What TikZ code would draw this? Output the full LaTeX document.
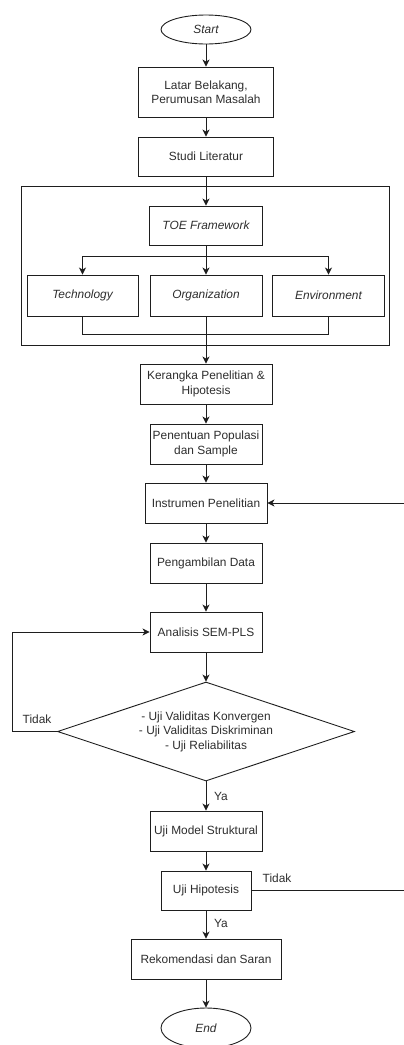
\documentclass[tikz,border=0pt]{standalone}
\usepackage{fontspec}
\setmainfont{Liberation Sans}
\usetikzlibrary{shapes.geometric,arrows.meta}
\definecolor{ln}{RGB}{30,30,30}
\definecolor{tx}{RGB}{45,45,45}
\begin{document}
\begin{tikzpicture}[x=1pt,y=-1pt,
  every node/.style={text=tx,font=\fontsize{11.9}{14.5}\selectfont},
  box/.style={draw=ln,line width=0.9pt,rectangle,inner sep=2pt,align=center},
  term/.style={draw=ln,line width=0.9pt,ellipse,inner sep=0pt,font=\fontsize{11.9}{14.5}\selectfont\itshape},
  lab/.style={inner sep=0pt},
  arr/.style={draw=ln,line width=0.9pt,-{Stealth[length=7pt,width=7pt,inset=2pt]}},
  ln/.style={draw=ln,line width=0.9pt}]
\useasboundingbox (0,0) rectangle (404,1045);
\node[term,minimum width=90,minimum height=29] (start) at (206,29.5) {Start};
\node[box,minimum width=135,minimum height=50] (latar) at (206,92) {Latar Belakang,\\Perumusan Masalah};
\node[box,minimum width=135,minimum height=39] (studi) at (206,156.5) {Studi Literatur};
\node[draw=ln,line width=0.9pt,minimum width=368,minimum height=159,inner sep=0pt] (frame) at (205,265.5) {};
\node[box,minimum width=113,minimum height=39,font=\fontsize{11.9}{14.5}\selectfont\itshape] (toe) at (206,225.5) {TOE Framework};
\node[box,minimum width=111,minimum height=41,font=\fontsize{11.9}{14.5}\selectfont\itshape] (tech) at (82.5,295.5) {Technology};
\node[box,minimum width=112,minimum height=41,font=\fontsize{11.9}{14.5}\selectfont\itshape] (org) at (206,295.5) {Organization};
\node[box,minimum width=112,minimum height=41,font=\fontsize{11.9}{14.5}\selectfont\itshape] (env) at (328.5,295.5) {Environment};
\coordinate (br) at (206,256);
\coordinate (jn) at (206,334);
\node[box,minimum width=132,minimum height=40] (ker) at (206,384) {Kerangka Penelitian \&\\Hipotesis};
\node[box,minimum width=112,minimum height=40] (pen) at (206,444) {Penentuan Populasi\\dan Sample};
\node[box,minimum width=122,minimum height=40] (ins) at (206,503) {Instrumen Penelitian};
\node[box,minimum width=112,minimum height=40] (amb) at (206,563) {Pengambilan Data};
\node[box,minimum width=112,minimum height=40] (ana) at (206,632) {Analisis SEM-PLS};
\node[draw=ln,line width=0.9pt,diamond,aspect=3,inner sep=0pt,minimum width=297,minimum height=99,align=center] (uji) at (206,731.5) {- Uji Validitas Konvergen\\- Uji Validitas Diskriminan\\- Uji Reliabilitas};
\node[box,minimum width=112,minimum height=40] (mod) at (206,831) {Uji Model Struktural};
\node[box,minimum width=90,minimum height=39] (hip) at (206,890.5) {Uji Hipotesis};
\node[box,minimum width=150,minimum height=40] (rek) at (206,959) {Rekomendasi dan Saran};
\node[term,minimum width=90,minimum height=40] (end) at (206,1028) {End};
\coordinate (lx) at (12,0);
\coordinate (rx) at (420,0);
\draw[arr] (start) -- (latar);
\draw[arr] (latar) -- (studi);
\draw[arr] (studi) -- (toe);
\draw[arr] (toe) -- (org);
\draw[arr] (br) -| (tech.north);
\draw[arr] (br) -| (env.north);
\draw[ln] (tech.south) -- (tech.south |- jn) -- (env.south |- jn) -- (env.south);
\draw[arr] (org) -- (ker);
\draw[arr] (ker) -- (pen);
\draw[arr] (pen) -- (ins);
\draw[arr] (ins) -- (amb);
\draw[arr] (amb) -- (ana);
\draw[arr] (ana) -- (uji);
\draw[arr] (uji.west) -- (uji.west -| lx) -- (ana.west -| lx) -- (ana.west);
\draw[arr] (uji) -- (mod);
\draw[arr] (mod) -- (hip);
\draw[arr] (hip.east) -- (hip.east -| rx) -- (ins.east -| rx) -- (ins.east);
\draw[arr] (hip) -- (rek);
\draw[arr] (rek) -- (end);
\node[lab] (t1) at (37,719) {Tidak};
\node[lab] (y1) at (221,796) {Ya};
\node[lab] (t2) at (277,878) {Tidak};
\node[lab] (y2) at (221,923) {Ya};
\end{tikzpicture}
\end{document}
